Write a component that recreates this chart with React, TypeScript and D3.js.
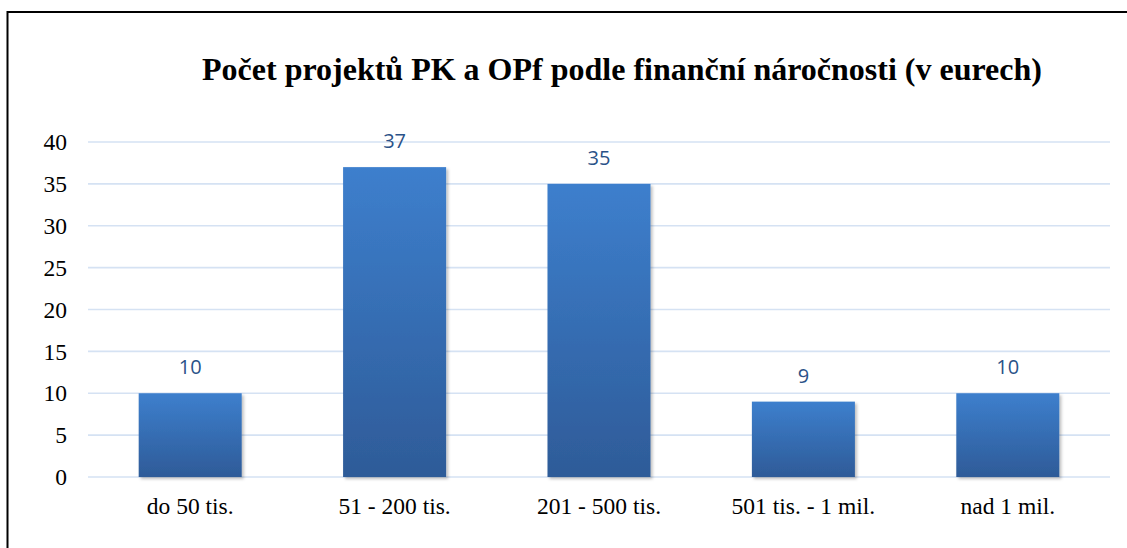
import React from "react";
import * as d3 from "d3";

const categories = ["do 50 tis.", "51 - 200 tis.", "201 - 500 tis.", "501 tis. - 1 mil.", "nad 1 mil."];
const values = [10, 37, 35, 9, 10];
const yTicks = [0, 5, 10, 15, 20, 25, 30, 35, 40];
const title = "Počet projektů PK a OPf podle finanční náročnosti (v eurech)";

const W = 1127;
const H = 548;
const plotLeft = 88;
const plotRight = 1110;
const plotTop = 142;
const plotBottom = 477;
const serif = "'Liberation Serif', 'Times New Roman', serif";

export default function App() {
  const x = d3.scaleBand<string>().domain(categories).range([plotLeft, plotRight]).paddingInner(0.496).paddingOuter(0.248);
  const y = d3.scaleLinear().domain([0, 40]).range([plotBottom, plotTop]);

  return (
    <svg width={W} height={H} style={{ position: "absolute", left: 0, top: 0, background: "#fff" }}>
      <defs>
        <linearGradient id="barGrad" x1="0" y1="0" x2="0" y2="1">
          <stop offset="0%" stopColor="#3D7FCD" />
          <stop offset="100%" stopColor="#2E5B98" />
        </linearGradient>
        <filter id="shadow" x="-10%" y="-10%" width="130%" height="130%">
          <feDropShadow dx="2" dy="2" stdDeviation="1.5" floodColor="#000" floodOpacity="0.25" />
        </filter>
      </defs>
      <rect x={7.5} y={12} width={W + 20} height={H + 20} fill="#fff" stroke="#000" strokeWidth={2} />
      <text x={622} y={80} textAnchor="middle" fontFamily={serif} fontWeight="bold" fontSize={32} fill="#000">
        {title}
      </text>
      {yTicks.map((t) => (
        <g key={t}>
          <line x1={plotLeft} x2={plotRight} y1={y(t)} y2={y(t)} stroke="#D5E2F3" strokeWidth={1.6} />
          <text x={67} y={y(t)} dy="0.35em" textAnchor="end" fontFamily={serif} fontSize={23.5} fill="#000">
            {t}
          </text>
        </g>
      ))}
      {categories.map((c, i) => {
        const bx = x(c)!;
        const bw = x.bandwidth();
        const v = values[i];
        return (
          <g key={c}>
            <rect x={bx} y={y(v)} width={bw} height={plotBottom - y(v)} fill="url(#barGrad)" filter="url(#shadow)" />
            <text x={bx + bw / 2} y={y(v) - 19} textAnchor="middle" fontFamily="'Open Sans', 'Liberation Sans', sans-serif" fontSize={20} fill="#2A5288">
              {v}
            </text>
            <text x={bx + bw / 2} y={514} textAnchor="middle" fontFamily={serif} fontSize={23.5} fill="#000">
              {c}
            </text>
          </g>
        );
      })}
    </svg>
  );
}
